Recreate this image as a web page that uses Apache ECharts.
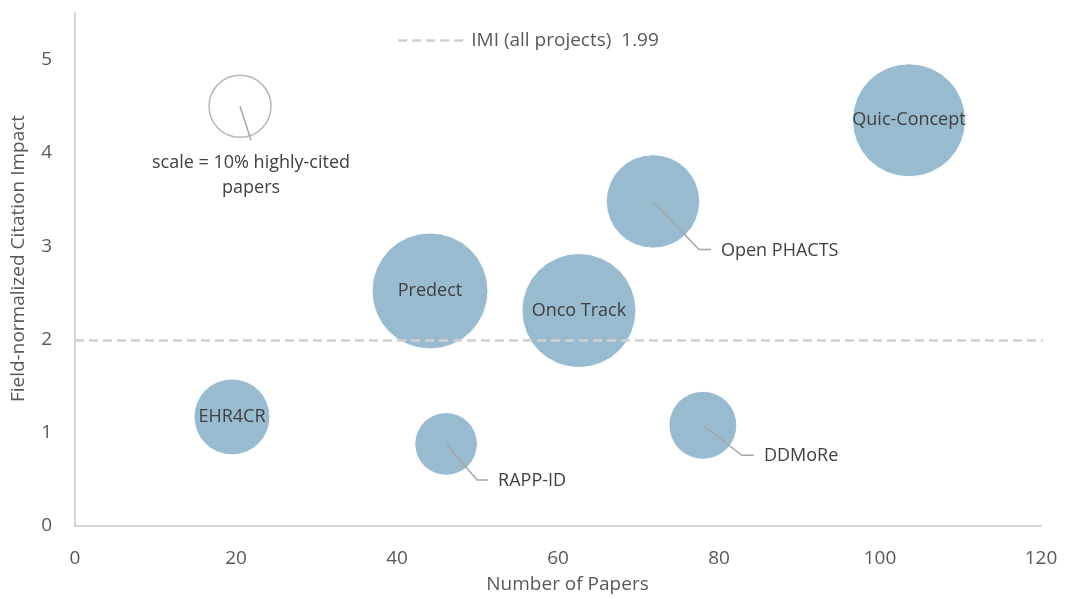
<!DOCTYPE html>
<html>
<head>
<meta charset="utf-8">
<title>IMI projects – papers vs citation impact</title>
<script src="https://cdn.jsdelivr.net/npm/echarts@6/dist/echarts.min.js"></script>
<style>
  html, body { margin: 0; padding: 0; background: #fff; }
  #chart { width: 1089px; height: 599px; }
</style>
</head>
<body>
<div id="chart"></div>
<script>
// data
const projects = ["Quic-Concept", "Open PHACTS", "Predect", "Onco Track", "EHR4CR", "RAPP-ID", "DDMoRe"]
const papers = [103.6, 71.8, 44.1, 62.6, 19.5, 46.1, 78.0]
const citationImpact = [4.35, 3.48, 2.52, 2.31, 1.17, 0.88, 1.08]
const highlyCitedPct = [33.2, 22.7, 35.0, 33.8, 15.0, 10.2, 12.0]

const imiLabel = "IMI (all projects)  1.99"
const imiValue = 1.99
const imiSpan = [0, 122.6]

// hollow key bubble: [papers, impact, % highly-cited]
const scaleKey = [20.5, 4.5, 10]
const scaleKeyText = "scale = 10% highly-cited\npapers"

const xTicks = [0, 120, 20]   // min, max, interval
const yTicks = [0, 5.5, 1]

// styling
const FONT = "Open Sans"
const TEXT = "#404040"
const AXIS_TEXT = "#595959"
const BUBBLE = "#98bbcf"
const LEADER = "#a6a6a6"
const DASH = "#d0d0d0"
const keyRadius = 31 // px radius of the 10% bubble

const bubbleSize = (pct) => 2 * keyRadius * Math.sqrt(pct / scaleKey[2])

// labels that sit outside their bubble, with a leader line (pixel offsets)
const callouts = {
  "Open PHACTS": { dx: 46, dy: 48, tail: 12, gap: 10 },
  "RAPP-ID": { dx: 31, dy: 36, tail: 11, gap: 10 },
  "DDMoRe": { dx: 39, dy: 30, tail: 12, gap: 10 }
}

const bubbleData = projects.map((name, i) => ({
  name,
  value: [papers[i], citationImpact[i], highlyCitedPct[i]],
  label: { show: !callouts[name] }
}))

const calloutData = projects
  .map((name, i) => ({ name, value: [papers[i], citationImpact[i]] }))
  .filter((d) => callouts[d.name])

const chart = echarts.init(document.getElementById("chart"), null, { renderer: "canvas" })

const option = {
  animation: false,
  backgroundColor: "#fff",
  textStyle: { fontFamily: FONT },
  grid: { left: 75, right: 48, top: 13, bottom: 72 },
  legend: {
    data: [{ name: imiLabel, itemStyle: { opacity: 0 } }],
    left: 392,
    top: 26,
    itemWidth: 68,
    itemHeight: 16,
    textStyle: { color: AXIS_TEXT, fontSize: 19, fontFamily: FONT },
    lineStyle: { type: [9, 5], color: DASH, width: 2.5 }
  },
  xAxis: {
    type: "value",
    min: xTicks[0],
    max: xTicks[1],
    interval: xTicks[2],
    name: "Number of Papers",
    nameLocation: "middle",
    nameGap: 49,
    nameTextStyle: { color: AXIS_TEXT, fontSize: 19, fontFamily: FONT, padding: [0, 0, 0, 19] },
    axisLine: { lineStyle: { color: "#c6c6c6", width: 1.5 } },
    axisTick: { show: false },
    splitLine: { show: false },
    axisLabel: { color: AXIS_TEXT, fontSize: 19, fontFamily: FONT, margin: 23 }
  },
  yAxis: {
    type: "value",
    min: yTicks[0],
    max: yTicks[1],
    interval: yTicks[2],
    name: "Field-normalized Citation Impact",
    nameLocation: "middle",
    nameGap: 47,
    nameTextStyle: { color: AXIS_TEXT, fontSize: 19, fontFamily: FONT, padding: [0, 0, 0, 22] },
    axisLine: { show: true, lineStyle: { color: "#c6c6c6", width: 1.5 } },
    axisTick: { show: false },
    splitLine: { show: false },
    axisLabel: { color: AXIS_TEXT, fontSize: 19, fontFamily: FONT, margin: 23, showMaxLabel: false }
  },
  series: [
    {
      name: "Projects",
      type: "scatter",
      data: bubbleData,
      symbol: "circle",
      symbolSize: (val) => bubbleSize(val[2]),
      itemStyle: { color: BUBBLE, borderColor: "#fff", borderWidth: 1, opacity: 1 },
      label: {
        position: "inside",
        formatter: "{b}",
        color: TEXT,
        fontSize: 18,
        fontFamily: FONT
      },
      emphasis: { disabled: true },
      z: 2
    },
    {
      name: "Scale key",
      type: "scatter",
      data: [scaleKey],
      symbol: "circle",
      symbolSize: (val) => bubbleSize(val[2]),
      itemStyle: { color: "rgba(255,255,255,0)", borderColor: LEADER, borderWidth: 1.5 },
      emphasis: { disabled: true },
      z: 2
    },
    {
      name: imiLabel,
      type: "line",
      data: [[imiSpan[0], imiValue], [imiSpan[1], imiValue]],
      symbol: "none",
      showSymbol: false,
      clip: false,
      itemStyle: { color: DASH },
      lineStyle: { type: [9, 5], color: DASH, width: 2.5 },
      emphasis: { disabled: true },
      z: 4
    },
    {
      name: "Callouts",
      type: "custom",
      data: calloutData,
      z: 3,
      renderItem: (params, api) => {
        const c = api.coord([api.value(0), api.value(1)])
        const o = callouts[calloutData[params.dataIndex].name]
        const ex = c[0] + o.dx
        const ey = c[1] + o.dy
        return {
          type: "group",
          children: [
            {
              type: "polyline",
              shape: { points: [[c[0], c[1]], [ex, ey], [ex + o.tail, ey]] },
              style: { stroke: LEADER, lineWidth: 1.5, fill: null }
            },
            {
              type: "text",
              style: {
                x: ex + o.tail + o.gap,
                y: ey + 1,
                text: calloutData[params.dataIndex].name,
                fill: TEXT,
                fontSize: 18,
                fontFamily: FONT,
                align: "left",
                verticalAlign: "middle"
              }
            }
          ]
        }
      }
    },
    {
      name: "Scale key label",
      type: "custom",
      data: [scaleKey],
      z: 3,
      renderItem: (params, api) => {
        const c = api.coord([api.value(0), api.value(1)])
        return {
          type: "group",
          children: [
            {
              type: "line",
              shape: { x1: c[0], y1: c[1], x2: c[0] + 11, y2: c[1] + 34 },
              style: { stroke: LEADER, lineWidth: 1.5 }
            },
            {
              type: "text",
              style: {
                x: c[0] + 11,
                y: c[1] + 44,
                text: scaleKeyText,
                fill: TEXT,
                fontSize: 18,
                fontFamily: FONT,
                lineHeight: 25,
                align: "center",
                verticalAlign: "top"
              }
            }
          ]
        }
      }
    }
  ]
}

chart.setOption(option)
</script>
</body>
</html>
